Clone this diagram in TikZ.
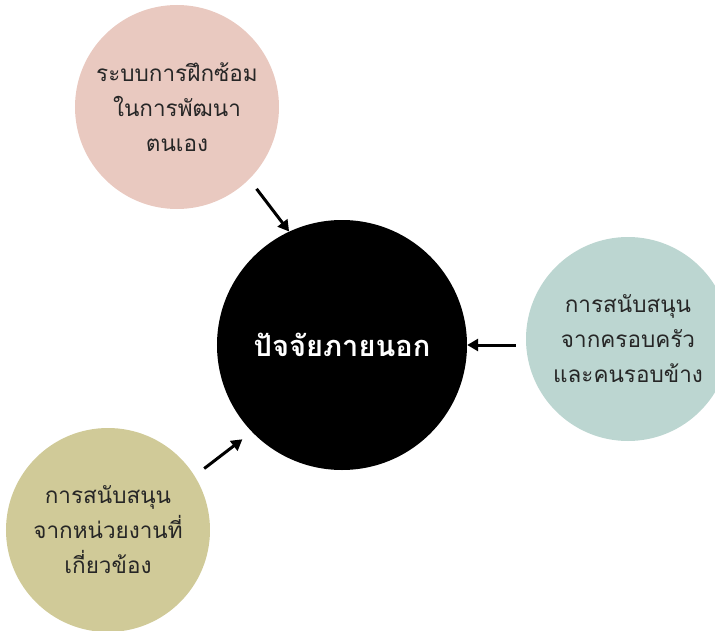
\documentclass[tikz,border=0pt]{standalone}
\usepackage{fontspec}
\newfontfamily\thaifont[Script=Thai]{Loma}
\usetikzlibrary{positioning,arrows.meta}
\definecolor{pinkfill}{HTML}{E9C9C0}
\definecolor{tealfill}{HTML}{BCD6D1}
\definecolor{olivefill}{HTML}{D0CA98}

\begin{document}
\begin{tikzpicture}[x=1pt,y=1pt,node distance=3cm,on grid,
  factor/.style={circle,minimum size=204pt,inner sep=0pt,align=center,
    text=black!85,font=\thaifont\fontsize{22.5}{35}\selectfont},
  push/.style={-{Triangle[length=11pt,width=12pt]},line width=3pt}]
  \useasboundingbox (-342,345) rectangle (373,-285);
  \node[circle,fill=black,minimum size=250pt,text=white,
    font=\thaifont\bfseries\fontsize{29}{32}\selectfont] (core) {ปัจจัยภายนอก};
  \node[factor,fill=pinkfill]  (train)  [above left=238pt and 165pt of core]  {ระบบการฝึกซ้อม\\ในการพัฒนา\\ตนเอง};
  \node[factor,fill=tealfill]  (family) [above right=6pt and 286pt of core]   {การสนับสนุน\\จากครอบครัว\\และคนรอบข้าง};
  \node[factor,fill=olivefill] (agency) [below left=185pt and 234pt of core]  {การสนับสนุน\\จากหน่วยงานที่\\เกี่ยวข้อง};
   \path[push]
   (train.-45)               edge [shorten <=12pt]                (core.115)
   (family.west |- core.east) edge [shorten <=10pt]               (core.east)
   (agency.32)               edge [shorten <=12pt,shorten >=12pt] (core.224);
\end{tikzpicture}
\end{document}
